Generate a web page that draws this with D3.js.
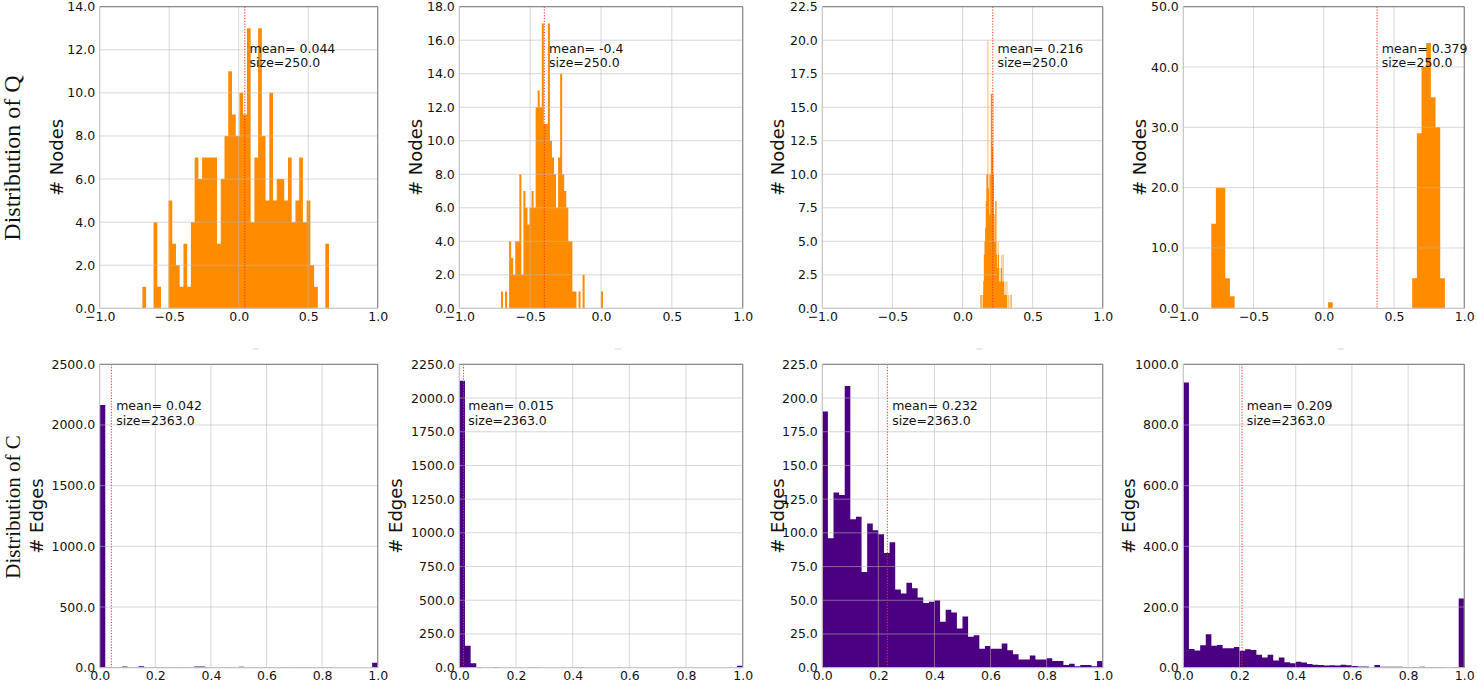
<!DOCTYPE html>
<html><head><meta charset="utf-8">
<script src="https://cdn.jsdelivr.net/npm/d3@7"></script>
<style>body{margin:0;background:#fff}svg{display:block}</style>
</head><body>
<svg id="chart" width="1477" height="684"></svg>
<script>
// ---------------- DATA ----------------
// Row 1: Distribution of Q (# Nodes), 50 bins each over the given range
const nodesCountsA = [1,0,0,4,1,0,0,5,3,2, 1,3,1,4,7,6,7,7,7,7, 3,6,8,11,9,8,10,9,13,4, 7,13,8,5,10,5,6,6,5,7, 4,5,7,4,5,2,1,0,0,3];
const nodesCountsB = [1,0,1,0,4,3,2,4,4,8, 2,7,6,5,6,7,6,12,13,12, 17,11,11,17,10,9,8,6,9,14, 8,7,6,4,4,1,1,0,1,0, 2,0,0,0,0,0,0,0,0,1];
const nodesCountsC = [1,0,1,0,1,2,4,5,6,8, 10,10,20,9,10,7,10,16,16,12, 16,10,7,5,8,8,4,3,5,4, 2,3,2,3,4,2,4,2,1,2, 1,1,2,0,1,0,0,1,0,1];
const nodesCountsD = [14,20,20,5,2,0,0,0,0,0, 0,0,0,0,0,0,0,0,0,0, 0,0,0,0,0,1,0,0,0,0, 0,0,0,0,0,0,0,0,0,0, 0,0,0,5,29,40,44,35,30,5];
const nodesBinRanges = [[-0.693,0.650],[-0.706,0.014],[0.125,0.351],[-0.801,0.862]];
const nodesMeans = [0.044,-0.4,0.216,0.379];
const nodesMeanLabels = ["0.044","-0.4","0.216","0.379"];
const nodesSizeLabel = "250.0";
const nodesYMax = [14,18,22.5,50];
const nodesYStep = [2,2,2.5,10];
const nodesXTicks = [-1,-0.5,0,0.5,1];

// Row 2: Distribution of C (# Edges), 50 bins over [0,1]
const edgesCountsA = [2165,5,5,4,10,4,4,12,4,4, 4,4,4,3,2,4,4,10,10,4, 2,2,4,2,2,7,1,1,2,4, 2,1,2,4,2,1,4,2,1,4, 2,4,0,0,0,0,0,0,0,41];
const edgesCountsB = [2128,163,33,6,0,0,5,0,0,0, 0,0,4,4,0,0,0,0,0,0, 0,5,0,0,0,0,0,0,0,0, 0,0,0,0,0,0,0,0,0,0, 0,0,0,0,0,0,0,0,0,15];
const edgesCountsC = [190,96,130,128,209,110,112,71,107,102, 99,85,93,58,55,63,59,52,48,49, 50,34,43,41,29,38,23,24,14,16, 14,14,18,13,10,6,6,9,6,6, 7,5,5,2,3,1,2,2,1,5];
const edgesCountsD = [940,62,57,74,110,72,75,64,64,68, 56,61,58,43,34,43,24,34,18,15, 20,17,12,10,9,7,8,7,10,8, 6,4,4,1,9,3,3,3,3,2, 2,2,3,2,2,2,1,1,2,228];
const edgesBinRange = [0,1];
const edgesMeans = [0.042,0.015,0.232,0.209];
const edgesMeanLabels = ["0.042","0.015","0.232","0.209"];
const edgesSizeLabel = "2363.0";
const edgesYMax = [2500,2250,225,1000];
const edgesYStep = [500,250,25,200];
const edgesXTicks = [0,0.2,0.4,0.6,0.8,1.0];

const rowTitles = ["Distribution of Q","Distribution of C"];
const yLabels = ["# Nodes","# Edges"];

// ---------------- LAYOUT ----------------
const svg = d3.select("#chart");
const colX = [[99.7,377.7],[459.3,742.7],[822.3,1102.7],[1183.3,1464.3]];
const rowY = [[6.7,308.3],[364.3,667.7]];
const labelOffset = [[43,44,45,44],[63.5,63.5,45,55]];
const FONT = "DejaVu Sans, sans-serif";
const fmt = d3.format(".1f");

const rows = [
  {counts:[nodesCountsA,nodesCountsB,nodesCountsC,nodesCountsD], ranges:nodesBinRanges,
   means:nodesMeans, meanLabels:nodesMeanLabels, size:nodesSizeLabel, yMax:nodesYMax, yStep:nodesYStep,
   xTicks:nodesXTicks, xDomain:[-1,1], color:"#ff8c00"},
  {counts:[edgesCountsA,edgesCountsB,edgesCountsC,edgesCountsD], ranges:[edgesBinRange,edgesBinRange,edgesBinRange,edgesBinRange],
   means:edgesMeans, meanLabels:edgesMeanLabels, size:edgesSizeLabel, yMax:edgesYMax, yStep:edgesYStep,
   xTicks:edgesXTicks, xDomain:[0,1], color:"#4b0082"}
];

rows.forEach((R,r)=>{
  const [y0,y1] = rowY[r];
  for(let c=0;c<4;c++){
    const [x0,x1] = colX[c];
    const x = d3.scaleLinear().domain(R.xDomain).range([x0,x1]);
    const y = d3.scaleLinear().domain([0,R.yMax[c]]).range([y1,y0]);
    const g = svg.append("g");
    const counts = R.counts[c], lo = R.ranges[c][0], hi = R.ranges[c][1];
    const w = (hi-lo)/counts.length;
    const bins = counts.map((v,i)=>({a:lo+i*w, b:lo+(i+1)*w, v}));
    // histogram as one stepped outline (no seams between adjacent bars)
    const p = d3.path();
    p.moveTo(x(bins[0].a), y(0));
    bins.forEach(d=>{ p.lineTo(x(d.a), y(d.v)); p.lineTo(x(d.b), y(d.v)); });
    p.lineTo(x(bins[bins.length-1].b), y(0));
    p.closePath();
    g.append("path").attr("d",p.toString()).attr("fill",R.color);
    const yt = d3.range(0,R.yMax[c]+1e-9,R.yStep[c]);
    // grid (drawn over bars, semi-transparent)
    const grid = g.append("g").attr("stroke","#b8b8b8").attr("stroke-opacity",0.55).attr("stroke-width",1);
    grid.selectAll("line.h").data(yt).join("line").attr("class","h")
      .attr("x1",x0).attr("x2",x1).attr("y1",d=>y(d)).attr("y2",d=>y(d));
    grid.selectAll("line.v").data(R.xTicks).join("line").attr("class","v")
      .attr("y1",y0).attr("y2",y1).attr("x1",d=>x(d)).attr("x2",d=>x(d));
    // mean line
    const m = R.means[c];
    g.append("line").attr("x1",x(m)).attr("x2",x(m)).attr("y1",y0).attr("y2",y1)
      .attr("stroke","#ff2a1a").attr("stroke-width",1).attr("stroke-dasharray","1.2,1.6");
    // spines
    g.append("line").attr("x1",x0).attr("x2",x1).attr("y1",y0).attr("y2",y0).attr("stroke","#8a8a8a").attr("stroke-width",1.2);
    g.append("line").attr("x1",x1).attr("x2",x1).attr("y1",y0).attr("y2",y1).attr("stroke","#8a8a8a").attr("stroke-width",1.2);
    g.append("line").attr("x1",x0).attr("x2",x0).attr("y1",y0).attr("y2",y1).attr("stroke","#c4c4c4").attr("stroke-width",1);
    g.append("line").attr("x1",x0).attr("x2",x1).attr("y1",y1).attr("y2",y1).attr("stroke","#c4c4c4").attr("stroke-width",1);
    // axes
    const ya = g.append("g").attr("transform",`translate(${x0},0)`)
      .call(d3.axisLeft(y).tickValues(yt).tickSize(0).tickPadding(4.5).tickFormat(fmt));
    const xa = g.append("g").attr("transform",`translate(0,${y1})`)
      .call(d3.axisBottom(x).tickValues(R.xTicks).tickSize(0).tickPadding(3.5).tickFormat(fmt));
    [ya,xa].forEach(a=>{a.select(".domain").remove();
      a.selectAll("text").attr("font-family",FONT).attr("font-size",12.5).attr("fill","#111");});
    // annotation
    const tx = x(m)+4.8;
    g.append("text").attr("x",tx).attr("y",y0+46).attr("font-family",FONT).attr("font-size",12.5).attr("fill","#111")
      .text("mean= "+R.meanLabels[c]);
    g.append("text").attr("x",tx).attr("y",y0+60.5).attr("font-family",FONT).attr("font-size",12.5).attr("fill","#111")
      .text("size="+R.size);
    // y label
    const lx = x0-labelOffset[r][c], ly = (y0+y1)/2;
    g.append("text").attr("transform",`translate(${lx+6.5},${ly}) rotate(-90)`)
      .attr("text-anchor","middle").attr("font-family",FONT).attr("font-size",18).attr("fill","#111")
      .text(yLabels[r]);
    // faint separator tick below each top-row panel (as in the reference)
    if(r===0){
      const cx=(x0+x1)/2+17;
      svg.append("line").attr("x1",cx-3).attr("x2",cx+3).attr("y1",349).attr("y2",349)
        .attr("stroke","#d8d8d8").attr("stroke-width",1);
    }
  }
});

// row titles
svg.append("text").attr("transform","translate(20,158) rotate(-90)").attr("text-anchor","middle")
  .attr("font-family","Liberation Serif, Times New Roman, serif").attr("font-size",24).attr("fill","#111").text(rowTitles[0]);
svg.append("text").attr("transform","translate(20,507) rotate(-90)").attr("text-anchor","middle")
  .attr("font-family","Liberation Serif, Times New Roman, serif").attr("font-size",21).attr("fill","#111").text(rowTitles[1]);
</script>
</body></html>
